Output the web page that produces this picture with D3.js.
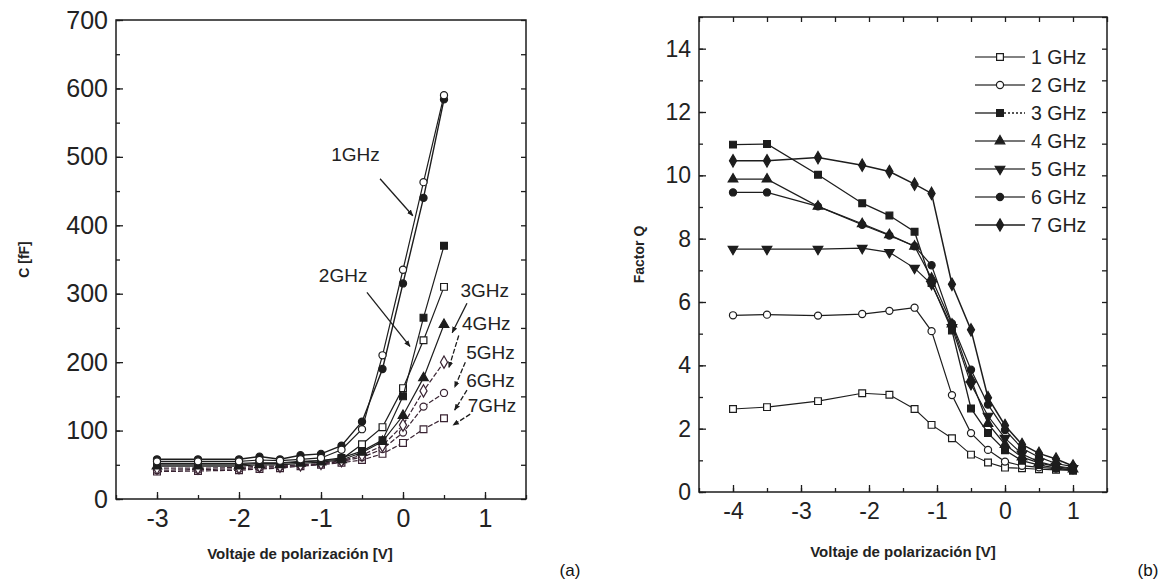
<!DOCTYPE html>
<html>
<head>
<meta charset="utf-8">
<script src="https://cdn.jsdelivr.net/npm/d3@7"></script>
<style>
  body { margin: 0; background: #fff; }
  svg text { font-family: "Liberation Sans", Arial, sans-serif; }
</style>
</head>
<body>
<svg id="chart" width="1167" height="582"></svg>
<script>
// ---------- panel (a): C [fF] vs bias voltage ----------
const voltsA = [-3, -2.5, -2, -1.75, -1.5, -1.25, -1, -0.75, -0.5, -0.25, 0, 0.25, 0.5];
const cap1GHzOpen   = [55, 55, 55, 57, 56, 58, 60, 72, 102, 210, 335, 463, 590];
const cap1GHzFilled = [58, 58, 58, 62, 58, 64, 66, 78, 113, 190, 315, 440, 584];
const cap2GHz = [50, 50, 50, 52, 52, 54, 56, 60, 70, 86, 150, 265, 370];
const cap3GHz = [52, 52, 52, 53, 53, 55, 56, 58, 80, 105, 162, 232, 310];
const cap4GHz = [48, 48, 48, 50, 50, 52, 54, 57, 68, 84, 122, 177, 255];
const cap5GHz = [45, 45, 46, 48, 48, 50, 52, 56, 64, 78, 108, 158, 200];
const cap6GHz = [42, 43, 44, 46, 47, 49, 51, 55, 61, 73, 97, 135, 155];
const cap7GHz = [40, 41, 42, 44, 45, 48, 50, 53, 57, 66, 82, 102, 118];

const capTicks = [0, 100, 200, 300, 400, 500, 600, 700];
const voltTicksA = [-3, -2, -1, 0, 1];

// frequency labels with their arrow (label x, label y, arrow from, arrow to) in data units
const freqLabelsA = ["1GHz", "2GHz", "3GHz", "4GHz", "5GHz", "6GHz", "7GHz"];
const labelPosA = [[-0.58, 504], [-0.73, 327], [0.70, 305], [0.72, 257], [0.77, 214], [0.77, 173], [0.79, 137]];
const arrowFromA = [[-0.28, 468], [-0.44, 302], [0.78, 286], [0.68, 239], [0.76, 200], [0.78, 159], [0.82, 124]];
const arrowToA   = [[0.12, 414], [0.085, 223], [0.60, 243], [0.56, 192], [0.63, 163], [0.63, 130], [0.61, 108]];

// ---------- panel (b): Q factor vs bias voltage ----------
const voltsB = [-4, -3.5, -2.75, -2.1, -1.7, -1.33, -1.08, -0.78, -0.5, -0.25, 0, 0.25, 0.5, 0.75, 1];
const q1GHz = [2.62, 2.68, 2.87, 3.12, 3.07, 2.62, 2.12, 1.7, 1.18, 0.93, 0.77, 0.75, 0.72, 0.7, 0.68];
const q2GHz = [5.58, 5.6, 5.57, 5.62, 5.72, 5.82, 5.08, 3.06, 1.86, 1.33, 0.96, 0.83, 0.78, 0.74, 0.7];
const q3GHz = [10.97, 10.99, 10.02, 9.12, 8.73, 8.22, 6.6, 5.1, 2.64, 1.86, 1.32, 0.99, 0.85, 0.76, 0.68];
const q4GHz = [9.88, 9.88, 9.02, 8.47, 8.12, 7.76, 6.75, 5.3, 3.56, 2.16, 1.5, 1.1, 0.92, 0.8, 0.72];
const q5GHz = [7.67, 7.67, 7.67, 7.7, 7.57, 7.07, 6.56, 5.2, 3.4, 2.4, 1.7, 1.2, 0.95, 0.82, 0.75];
const q6GHz = [9.46, 9.46, 9.02, 8.44, 8.1, 7.76, 7.16, 5.32, 3.86, 2.76, 1.96, 1.38, 1.1, 0.9, 0.8];
const q7GHz = [10.46, 10.46, 10.56, 10.32, 10.12, 9.72, 9.43, 6.56, 5.12, 2.98, 2.1, 1.5, 1.22, 1.04, 0.82];

const qTicks = [0, 2, 4, 6, 8, 10, 12, 14];
const voltTicksB = [-4, -3, -2, -1, 0, 1];
const legendNamesB = ["1 GHz", "2 GHz", "3 GHz", "4 GHz", "5 GHz", "6 GHz", "7 GHz"];

const ink = "#1d1d1d";
const svg = d3.select("#chart");

// marker looks
const marks = {
  openSquare:   { type: d3.symbolSquare,   size: 46, fill: "#fff", rot: 0 },
  filledSquare: { type: d3.symbolSquare,   size: 46, fill: ink,    rot: 0 },
  openCircle:   { type: d3.symbolCircle,   size: 40, fill: "#fff", rot: 0 },
  filledCircle: { type: d3.symbolCircle,   size: 40, fill: ink,    rot: 0 },
  triUp:        { type: d3.symbolTriangle, size: 40, fill: ink,    rot: 0 },
  triDown:      { type: d3.symbolTriangle, size: 40, fill: ink,    rot: 180 },
  diamond:      { type: d3.symbolDiamond,  size: 44, fill: ink,    rot: 0 },
  openDiamond:  { type: d3.symbolDiamond,  size: 44, fill: "#fff", rot: 0 }
};

function drawMarker(g, cx, cy, m, color) {
  g.append("path")
    .attr("d", d3.symbol().type(m.type).size(m.size)())
    .attr("transform", `translate(${cx},${cy}) rotate(${m.rot})`)
    .attr("fill", m.fill === "#fff" ? "#fff" : color)
    .attr("stroke", color)
    .attr("stroke-width", 1.2);
}

function drawFrame(x, y, cfg) {
  const [x0, x1] = x.range();
  const [y0, y1] = y.range();
  const g = svg.append("g");

  g.append("rect")
    .attr("x", x0).attr("y", y1)
    .attr("width", x1 - x0).attr("height", y0 - y1)
    .attr("fill", "none").attr("stroke", ink).attr("stroke-width", 1.5);

  const styleAxis = (sel, size) => {
    sel.select(".domain").remove();
    sel.selectAll("line").attr("stroke", ink).attr("stroke-width", 1.3);
    sel.selectAll("text").attr("font-size", size).attr("fill", "#222")
      .attr("font-family", "'Liberation Sans', Arial, sans-serif");
  };

  // bottom
  g.append("g").attr("transform", `translate(0,${y0})`)
    .call(d3.axisBottom(x).tickValues(cfg.xTicks).tickSize(-7).tickPadding(cfg.xPad).tickFormat(d => String(d)))
    .call(s => styleAxis(s, cfg.fontSize));
  g.append("g").attr("transform", `translate(0,${y0})`)
    .call(d3.axisBottom(x).tickValues(cfg.xMinor).tickSize(-4).tickFormat(""))
    .call(s => styleAxis(s, cfg.fontSize));

  // left
  g.append("g").attr("transform", `translate(${x0},0)`)
    .call(d3.axisLeft(y).tickValues(cfg.yTicks).tickSize(-7).tickPadding(cfg.yPad).tickFormat(d => String(d)))
    .call(s => styleAxis(s, cfg.fontSize));
  g.append("g").attr("transform", `translate(${x0},0)`)
    .call(d3.axisLeft(y).tickValues(cfg.yMinor).tickSize(-4).tickFormat(""))
    .call(s => styleAxis(s, cfg.fontSize));

  // right frame ticks
  g.append("g").attr("transform", `translate(${x1},0)`)
    .call(d3.axisRight(y).tickValues(cfg.yRight).tickSize(-5).tickFormat(""))
    .call(s => styleAxis(s, cfg.fontSize));

  // top frame ticks
  if (cfg.xTop) {
    g.append("g").attr("transform", `translate(0,${y1})`)
      .call(d3.axisTop(x).tickValues(cfg.xTop).tickSize(-5).tickFormat(""))
      .call(s => styleAxis(s, cfg.fontSize));
  }
}

function drawSeries(x, y, xs, series) {
  const line = d3.line().x(d => x(d[0])).y(d => y(d[1]));
  series.forEach(s => {
    const pts = xs.map((v, i) => [v, s.values[i]]);
    const g = svg.append("g");
    g.append("path").datum(pts)
      .attr("d", line)
      .attr("fill", "none")
      .attr("stroke", s.color)
      .attr("stroke-width", s.width || 1.2)
      .attr("stroke-dasharray", s.dash || null);
    pts.forEach(p => drawMarker(g, x(p[0]), y(p[1]), s.mark, s.color));
  });
}

function halfSteps(a, b, step) {
  return d3.range(a, b + 1e-9, step);
}

// ---------- panel (a) ----------
const xA = d3.scaleLinear().domain([-3.5, 1.5]).range([116, 526]);
const yA = d3.scaleLinear().domain([0, 700]).range([499, 20]);

drawFrame(xA, yA, {
  xTicks: voltTicksA, xMinor: halfSteps(-3.5, 1.5, 0.5), xPad: 10,
  yTicks: capTicks, yMinor: halfSteps(0, 700, 50), yPad: 8,
  yRight: halfSteps(0, 700, 50), fontSize: 25
});

const tint = "#3a2433";
drawSeries(xA, yA, voltsA, [
  { values: cap7GHz, mark: marks.openSquare,   color: tint, dash: "5,2" },
  { values: cap6GHz, mark: marks.openCircle,   color: tint, dash: "5,2" },
  { values: cap5GHz, mark: marks.openDiamond,  color: tint, dash: "5,2" },
  { values: cap4GHz, mark: marks.triUp,        color: ink },
  { values: cap3GHz, mark: marks.openSquare,   color: ink },
  { values: cap2GHz, mark: marks.filledSquare, color: ink },
  { values: cap1GHzFilled, mark: marks.filledCircle, color: ink, width: 1.4 },
  { values: cap1GHzOpen,   mark: marks.openCircle,   color: ink, width: 1.2 }
]);

// frequency labels and arrows
svg.append("defs").append("marker")
  .attr("id", "arrowhead").attr("viewBox", "0 0 10 10")
  .attr("refX", 9).attr("refY", 5)
  .attr("markerWidth", 5).attr("markerHeight", 5)
  .attr("orient", "auto")
  .append("path").attr("d", "M0,1 L10,5 L0,9 Z").attr("fill", ink);

freqLabelsA.forEach((name, i) => {
  const big = i < 2;
  svg.append("text")
    .attr("x", xA(labelPosA[i][0])).attr("y", yA(labelPosA[i][1]))
    .attr("text-anchor", big ? "middle" : "start")
    .attr("dominant-baseline", "central")
    .attr("font-size", 19).attr("fill", "#222")
    .text(name);
  svg.append("line")
    .attr("x1", xA(arrowFromA[i][0])).attr("y1", yA(arrowFromA[i][1]))
    .attr("x2", xA(arrowToA[i][0])).attr("y2", yA(arrowToA[i][1]))
    .attr("stroke", ink).attr("stroke-width", 1.3)
    .attr("stroke-dasharray", i >= 3 ? "5,2" : null)
    .attr("marker-end", "url(#arrowhead)");
});

svg.append("text")
  .attr("transform", `translate(24,${(yA.range()[0] + yA.range()[1]) / 2}) rotate(-90)`)
  .attr("text-anchor", "middle").attr("dominant-baseline", "central")
  .attr("font-family", "'Open Sans', sans-serif").attr("font-weight", 700)
  .attr("font-size", 14).attr("fill", "#222")
  .text("C [fF]");

svg.append("text")
  .attr("x", 300).attr("y", 553)
  .attr("text-anchor", "middle").attr("dominant-baseline", "central")
  .attr("font-family", "'Open Sans', sans-serif").attr("font-weight", 700)
  .attr("font-size", 15).attr("fill", "#222")
  .text("Voltaje de polarización [V]");

svg.append("text")
  .attr("x", 570).attr("y", 570)
  .attr("text-anchor", "middle").attr("dominant-baseline", "central")
  .attr("font-size", 17).attr("fill", "#111")
  .text("(a)");

// ---------- panel (b) ----------
const xB = d3.scaleLinear().domain([-4.5, 1.5]).range([699, 1107]);
const yB = d3.scaleLinear().domain([0, 15]).range([492, 17]);

drawFrame(xB, yB, {
  xTicks: voltTicksB, xMinor: halfSteps(-4.5, 1.5, 0.5), xPad: 11,
  yTicks: qTicks, yMinor: halfSteps(0, 15, 1), yPad: 8,
  yRight: halfSteps(0, 15, 1), xTop: halfSteps(-4.5, 1.5, 0.5), fontSize: 23
});

const seriesB = [
  { name: legendNamesB[0], values: q1GHz, mark: marks.openSquare,   color: ink, width: 1.1 },
  { name: legendNamesB[1], values: q2GHz, mark: marks.openCircle,   color: ink, width: 1.2 },
  { name: legendNamesB[2], values: q3GHz, mark: marks.filledSquare, color: ink, width: 1.3, legendDash: "2,2" },
  { name: legendNamesB[3], values: q4GHz, mark: marks.triUp,        color: ink, width: 1.2 },
  { name: legendNamesB[4], values: q5GHz, mark: marks.triDown,      color: ink, width: 1.2 },
  { name: legendNamesB[5], values: q6GHz, mark: marks.filledCircle, color: ink, width: 1.2 },
  { name: legendNamesB[6], values: q7GHz, mark: marks.diamond,      color: ink, width: 1.5 }
];
drawSeries(xB, yB, voltsB, seriesB);

// legend
const legend = svg.append("g");
seriesB.forEach((s, i) => {
  const ly = 57 + i * 28;
  legend.append("line").attr("x1", 975).attr("x2", 1000).attr("y1", ly).attr("y2", ly)
    .attr("stroke", s.color).attr("stroke-width", s.width);
  legend.append("line").attr("x1", 1000).attr("x2", 1025).attr("y1", ly).attr("y2", ly)
    .attr("stroke", s.color).attr("stroke-width", s.width)
    .attr("stroke-dasharray", s.legendDash || null);
  drawMarker(legend, 1000, ly, s.mark, s.color);
  legend.append("text").attr("x", 1031).attr("y", ly)
    .attr("dominant-baseline", "central")
    .attr("font-size", 19.5).attr("fill", "#222")
    .text(s.name);
});

svg.append("text")
  .attr("transform", `translate(639,${(yB.range()[0] + yB.range()[1]) / 2}) rotate(-90)`)
  .attr("text-anchor", "middle").attr("dominant-baseline", "central")
  .attr("font-family", "'Open Sans', sans-serif").attr("font-weight", 700)
  .attr("font-size", 14).attr("fill", "#222")
  .text("Factor Q");

svg.append("text")
  .attr("x", 903).attr("y", 551)
  .attr("text-anchor", "middle").attr("dominant-baseline", "central")
  .attr("font-family", "'Open Sans', sans-serif").attr("font-weight", 700)
  .attr("font-size", 15).attr("fill", "#222")
  .text("Voltaje de polarización [V]");

svg.append("text")
  .attr("x", 1148).attr("y", 570)
  .attr("text-anchor", "middle").attr("dominant-baseline", "central")
  .attr("font-size", 17).attr("fill", "#111")
  .text("(b)");
</script>
</body>
</html>
